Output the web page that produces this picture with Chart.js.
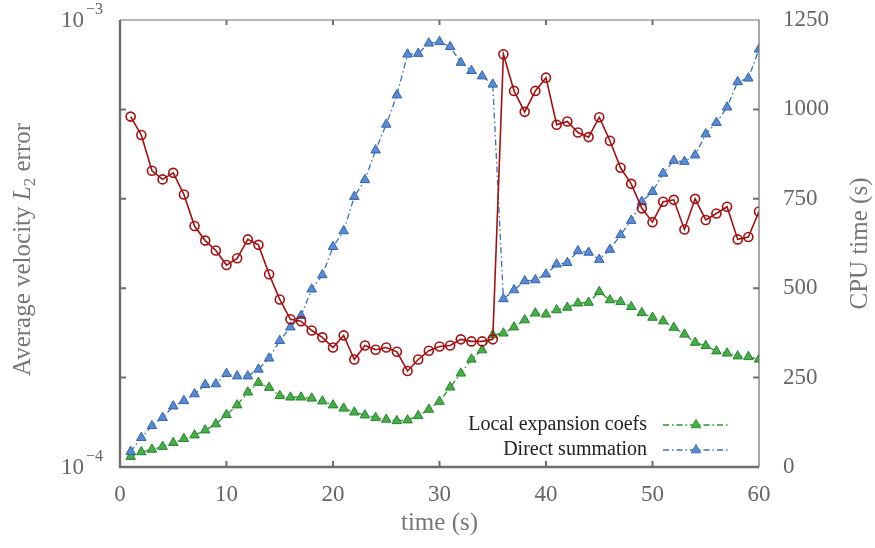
<!DOCTYPE html>
<html>
<head>
<meta charset="utf-8">
<script src="https://cdn.jsdelivr.net/npm/chart.js@4.4.0/dist/chart.umd.min.js"></script>
<style>
  html, body { margin: 0; padding: 0; background: #fff; }
  #wrap { width: 875px; height: 548px; }
</style>
</head>
<body>
<div id="wrap"><canvas id="myChart"></canvas></div>
<script>
// time steps (s)
const timeSteps = [];
for (let t = 1; t <= 60; t++) timeSteps.push(t);

// average velocity L2 error (left, log axis)
const l2Error = [
  6.08e-4, 5.53e-4, 4.60e-4, 4.40e-4, 4.55e-4, 4.07e-4, 3.46e-4, 3.21e-4, 3.05e-4, 2.83e-4,
  2.93e-4, 3.23e-4, 3.14e-4, 2.70e-4, 2.37e-4, 2.14e-4, 2.12e-4, 2.02e-4, 1.95e-4, 1.85e-4,
  1.97e-4, 1.74e-4, 1.87e-4, 1.83e-4, 1.85e-4, 1.81e-4, 1.64e-4, 1.74e-4, 1.82e-4, 1.86e-4,
  1.87e-4, 1.93e-4, 1.91e-4, 1.91e-4, 1.93e-4, 8.38e-4, 6.94e-4, 6.23e-4, 6.94e-4, 7.43e-4,
  5.83e-4, 5.93e-4, 5.60e-4, 5.47e-4, 6.06e-4, 5.37e-4, 4.67e-4, 4.30e-4, 3.79e-4, 3.53e-4,
  3.92e-4, 3.96e-4, 3.40e-4, 3.98e-4, 3.57e-4, 3.69e-4, 3.82e-4, 3.23e-4, 3.27e-4, 3.73e-4
];

// CPU time (s), right axis
const cpuLocal = [
  29, 42, 49, 57, 68, 79, 89, 103, 120, 146,
  173, 209, 236, 222, 199, 195, 195, 192, 184, 173,
  164, 153, 145, 138, 133, 129, 131, 143, 161, 183,
  223, 262, 301, 327, 369, 374, 391, 411, 430, 427,
  439, 446, 458, 460, 490, 467, 462, 448, 431, 418,
  408, 390, 371, 348, 339, 324, 318, 310, 308, 301
];
const cpuDirect = [
  43, 82, 115, 138, 170, 185, 204, 230, 232, 261,
  254, 254, 273, 304, 353, 391, 423, 497, 537, 616,
  660, 756, 803, 886, 958, 1040, 1154, 1156, 1185, 1189,
  1175, 1131, 1108, 1093, 1070, 470, 495, 520, 523, 539,
  567, 571, 604, 600, 580, 608, 649, 689, 742, 770,
  821, 857, 854, 872, 931, 963, 1006, 1077, 1087, 1168
];

const errorTicks = [1e-4, 1e-3];
const errorTickLabels = [['10', '\u22124'], ['10', '\u22123']];
const xTicks = [0, 10, 20, 30, 40, 50, 60];
const legendNames = ['Local expansion coefs', 'Direct summation'];

const SERIF = '"Liberation Serif", "DejaVu Serif", serif';
const tickGrey = '#666666';
const frameGrey = '#6e6e6e';

function pts(ys) {
  return timeSteps.map((t, i) => ({ x: t, y: ys[i] }));
}

const framePlugin = {
  id: 'frame',
  afterDraw(chart) {
    const ctx = chart.ctx;
    const ca = chart.chartArea;
    const xs = chart.scales.x, ys = chart.scales.y, y2 = chart.scales.y2;
    ctx.save();

    // box
    ctx.strokeStyle = frameGrey;
    ctx.lineWidth = 1.2;
    ctx.beginPath();
    ctx.moveTo(ca.left, ca.top); ctx.lineTo(ca.right, ca.top); ctx.lineTo(ca.right, ca.bottom);
    ctx.stroke();
    ctx.lineWidth = 2.4;
    ctx.beginPath();
    ctx.moveTo(ca.left, ca.top); ctx.lineTo(ca.left, ca.bottom); ctx.lineTo(ca.right, ca.bottom);
    ctx.stroke();

    // inward tick marks
    ctx.lineWidth = 2;
    xTicks.slice(1, -1).forEach(v => {
      const px = xs.getPixelForValue(v);
      ctx.beginPath();
      ctx.moveTo(px, ca.bottom); ctx.lineTo(px, ca.bottom - 6);
      ctx.moveTo(px, ca.top); ctx.lineTo(px, ca.top + 5);
      ctx.stroke();
    });
    y2.ticks.slice(1, -1).forEach(t => {
      const py = y2.getPixelForValue(t.value);
      ctx.beginPath();
      ctx.moveTo(ca.left, py); ctx.lineTo(ca.left + 6, py);
      ctx.moveTo(ca.right, py); ctx.lineTo(ca.right - 6, py);
      ctx.stroke();
    });

    // log tick labels 10^-n
    ctx.fillStyle = tickGrey;
    ctx.textBaseline = 'middle';
    errorTicks.forEach((v, i) => {
      const py = ys.getPixelForValue(v);
      const right = ca.left - 17;
      ctx.font = '16px ' + SERIF;
      const supW = ctx.measureText(errorTickLabels[i][1]).width;
      ctx.textAlign = 'left';
      ctx.fillText(errorTickLabels[i][1], right - supW, py - 10);
      ctx.font = '23px ' + SERIF;
      ctx.textAlign = 'right';
      ctx.fillText(errorTickLabels[i][0], right - supW - 2, py + 1);
    });

    // left axis title with italic L and subscript 2
    const parts = [
      { t: 'Average velocity ', f: '25px ' + SERIF, dy: 0 },
      { t: 'L', f: 'italic 25px ' + SERIF, dy: 0 },
      { t: '2', f: '17px ' + SERIF, dy: 5 },
      { t: ' error', f: '25px ' + SERIF, dy: 0 }
    ];
    let total = 0;
    parts.forEach(p => { ctx.font = p.f; p.w = ctx.measureText(p.t).width; total += p.w; });
    ctx.save();
    ctx.translate(22, (ca.top + ca.bottom) / 2 + 6);
    ctx.rotate(-Math.PI / 2);
    ctx.fillStyle = '#777777';
    ctx.textAlign = 'left';
    ctx.textBaseline = 'alphabetic';
    let cx = -total / 2;
    parts.forEach(p => { ctx.font = p.f; ctx.fillText(p.t, cx, 8 + p.dy); cx += p.w; });
    ctx.restore();

    // right axis title
    ctx.save();
    ctx.translate(860, (ca.top + ca.bottom) / 2);
    ctx.rotate(-Math.PI / 2);
    ctx.fillStyle = '#777777';
    ctx.font = '25px ' + SERIF;
    ctx.textAlign = 'center';
    ctx.textBaseline = 'middle';
    ctx.fillText('CPU time (s)', 0, 0);
    ctx.restore();

    // legend (bottom right, inside)
    [0, 1].forEach(i => {
      const ds = chart.data.datasets[i];
      const ly = ca.bottom - 42 + i * 25;
      ctx.fillStyle = '#222222';
      ctx.font = '20px ' + SERIF;
      ctx.textAlign = 'right';
      ctx.textBaseline = 'middle';
      ctx.fillText(legendNames[i], ca.right - 112, ly);
      ctx.strokeStyle = ds.borderColor;
      ctx.lineWidth = 1.3;
      ctx.setLineDash(ds.borderDash);
      ctx.beginPath();
      ctx.moveTo(ca.right - 96, ly); ctx.lineTo(ca.right - 29, ly);
      ctx.stroke();
      ctx.setLineDash([]);
      ctx.fillStyle = ds.pointBackgroundColor;
      ctx.lineWidth = 1;
      Chart.helpers.drawPoint(ctx, { pointStyle: 'triangle', radius: 5.5, rotation: 0, borderWidth: 1 }, ca.right - 63, ly);
    });

    ctx.restore();
  }
};

const ctx = document.getElementById('myChart').getContext('2d');
const chart = new Chart(ctx, {
  type: 'line',
  data: {
    datasets: [{
      label: legendNames[0],
      data: pts(cpuLocal),
      yAxisID: 'y2',
      borderColor: '#2b962b',
      backgroundColor: '#47ad47',
      pointBackgroundColor: '#47ad47',
      pointBorderColor: '#23862a',
      borderWidth: 1.3,
      borderDash: [6, 3, 1.5, 3],
      pointStyle: 'triangle',
      pointRadius: 5.5,
      pointBorderWidth: 1,
      order: 3
    }, {
      label: legendNames[1],
      data: pts(cpuDirect),
      yAxisID: 'y2',
      borderColor: '#3a6fbf',
      backgroundColor: '#5a8ad0',
      pointBackgroundColor: '#5a8ad0',
      pointBorderColor: '#2f62b3',
      borderWidth: 1.3,
      borderDash: [6, 3, 1.5, 3],
      pointStyle: 'triangle',
      pointRadius: 5.5,
      pointBorderWidth: 1,
      order: 2
    }, {
      label: 'L2 error',
      data: pts(l2Error),
      yAxisID: 'y',
      borderColor: '#a50f0f',
      backgroundColor: '#ffffff',
      pointBackgroundColor: 'rgba(255,255,255,0)',
      pointBorderColor: '#a50f0f',
      borderWidth: 1.6,
      pointStyle: 'circle',
      pointRadius: 4.5,
      pointBorderWidth: 1.6,
      order: 1
    }]
  },
  options: {
    responsive: true,
    maintainAspectRatio: false,
    animation: false,
    devicePixelRatio: 1,
    layout: { padding: { top: 20, left: 0, right: 0, bottom: 0 } },
    plugins: {
      legend: { display: false },
      tooltip: { enabled: false }
    },
    scales: {
      x: {
        type: 'linear',
        min: 0, max: 60,
        afterBuildTicks: s => { s.ticks = xTicks.map(v => ({ value: v })); },
        ticks: { font: { family: SERIF, size: 23 }, color: tickGrey, padding: 6, maxRotation: 0 },
        grid: { display: false },
        border: { display: false },
        title: { display: true, text: 'time (s)', font: { family: SERIF, size: 25 }, color: '#777777', padding: { top: 0, bottom: 10 } },
        afterFit: s => { s.height = 81; s.paddingLeft = 0; s.paddingRight = 0; }
      },
      y: {
        type: 'logarithmic',
        position: 'left',
        min: 1e-4, max: 1e-3,
        afterBuildTicks: s => { s.ticks = errorTicks.map(v => ({ value: v })); },
        ticks: { display: false },
        grid: { display: false },
        border: { display: false },
        afterFit: s => { s.width = 120; s.paddingTop = 0; s.paddingBottom = 0; }
      },
      y2: {
        type: 'linear',
        position: 'right',
        min: 0, max: 1250,
        ticks: { stepSize: 250, font: { family: SERIF, size: 23 }, color: tickGrey, padding: 16,
                 callback: v => String(v) },
        grid: { display: false },
        border: { display: false },
        afterFit: s => { s.width = 116; s.paddingTop = 0; s.paddingBottom = 0; }
      }
    }
  },
  plugins: [framePlugin]
});
</script>
</body>
</html>
